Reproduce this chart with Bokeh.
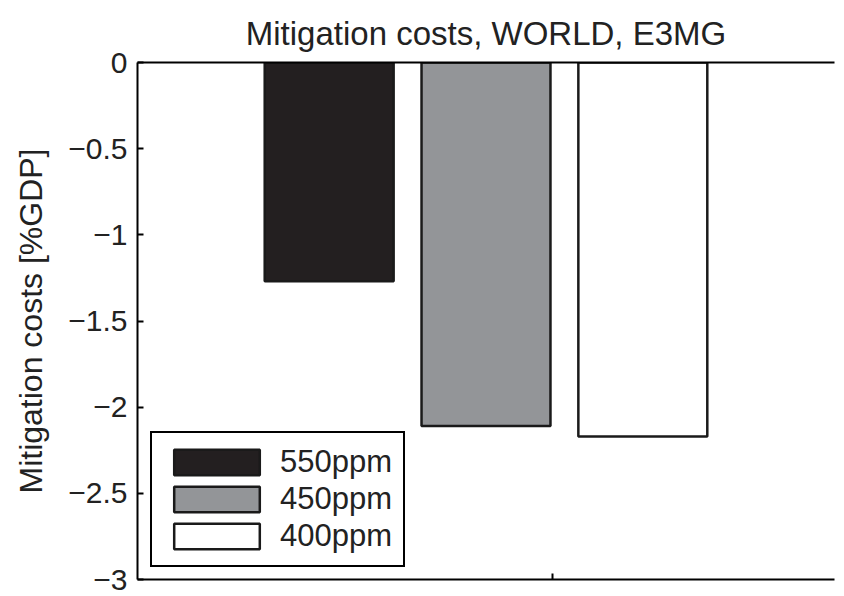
from bokeh.plotting import figure
from bokeh.models import (LinearAxis, FixedTicker, Legend, LegendItem, Range1d,
                          ColumnDataSource)
from bokeh.embed import file_html
from bokeh.resources import INLINE

# ---- data ----
scenarios = ["550ppm", "450ppm", "400ppm"]
costs = [-1.27, -2.11, -2.17]
bar_x = [0.73, 1.0, 1.27]
fill_colors = ["#231f20", "#939598", "#ffffff"]
y_ticks = [-3.0, -2.5, -2.0, -1.5, -1.0, -0.5, 0.0]
y_tick_labels = ["\u22123", "\u22122.5", "\u22122", "\u22121.5", "\u22121", "\u22120.5", "0"]
x_ticks = [1.115]

FONT = "Liberation Sans"
TXT = "#222222"

src = ColumnDataSource(dict(x=bar_x, top=[0.0] * len(costs), bottom=costs,
                            color=fill_colors, name=scenarios))

p = figure(frame_width=697, frame_height=517,
           x_range=Range1d(0.4, 1.6), y_range=Range1d(-3, 0),
           output_backend="svg", toolbar_location=None,
           min_border_left=137, min_border_right=2,
           min_border_top=62, min_border_bottom=15,
           x_axis_location=None, y_axis_location=None)
p.outline_line_color = None
p.grid.visible = False
p.background_fill_color = "white"
p.border_fill_color = "white"

p.title.text = "Mitigation costs, WORLD, E3MG"
p.title.align = "center"
p.title.text_font = FONT
p.title.text_font_size = "33px"
p.title.text_font_style = "normal"
p.title.text_color = TXT
p.title.standoff = 22

# y axis
yax = LinearAxis(ticker=FixedTicker(ticks=y_ticks))
yax.major_label_overrides = {t: l for t, l in zip(y_ticks, y_tick_labels)}
yax.axis_label = "Mitigation costs [%GDP]"
yax.axis_label_text_font = FONT
yax.axis_label_text_font_size = "32px"
yax.axis_label_text_font_style = "normal"
yax.axis_label_text_color = TXT
yax.axis_label_standoff = 16
yax.major_label_text_font = FONT
yax.major_label_text_font_size = "30px"
yax.major_label_text_color = TXT
yax.major_label_standoff = 10
yax.major_tick_in = 6
yax.major_tick_out = 0
yax.minor_tick_line_color = None
yax.axis_line_width = 2
yax.major_tick_line_width = 2
yax.axis_line_color = "black"
yax.major_tick_line_color = "black"
p.add_layout(yax, "left")

# bottom x axis (one tick, no label)
xax = LinearAxis(ticker=FixedTicker(ticks=x_ticks))
xax.major_label_overrides = {t: "" for t in x_ticks}
xax.major_label_standoff = 0
xax.major_tick_in = 6
xax.major_tick_out = 0
xax.minor_tick_line_color = None
xax.axis_line_width = 2
xax.major_tick_line_width = 2
xax.axis_line_color = "black"
xax.major_tick_line_color = "black"
p.add_layout(xax, "below")

# top axis line
tax = LinearAxis(ticker=FixedTicker(ticks=[]))
tax.major_label_standoff = 0
tax.major_tick_in = 0
tax.major_tick_out = 0
tax.minor_tick_line_color = None
tax.axis_line_width = 2
tax.axis_line_color = "black"
p.add_layout(tax, "above")

r = p.vbar(x="x", top="top", bottom="bottom", width=0.222, source=src,
           fill_color="color", line_color="#1a1a1a", line_width=2.5)

items = [LegendItem(label=s, renderers=[r], index=i) for i, s in enumerate(scenarios)]
legend = Legend(items=items, location=(13, 12))
legend.border_line_color = "black"
legend.border_line_width = 2
legend.border_line_alpha = 1.0
legend.background_fill_color = "white"
legend.background_fill_alpha = 1
legend.padding = 11
legend.spacing = 1
legend.margin = 0
legend.glyph_width = 107
legend.glyph_height = 32
legend.label_standoff = 10
legend.label_text_font = FONT
legend.label_text_font_size = "31px"
legend.label_text_color = TXT
legend.label_height = 32
p.add_layout(legend, "center")

open("out.html", "w").write(file_html(p, INLINE))
